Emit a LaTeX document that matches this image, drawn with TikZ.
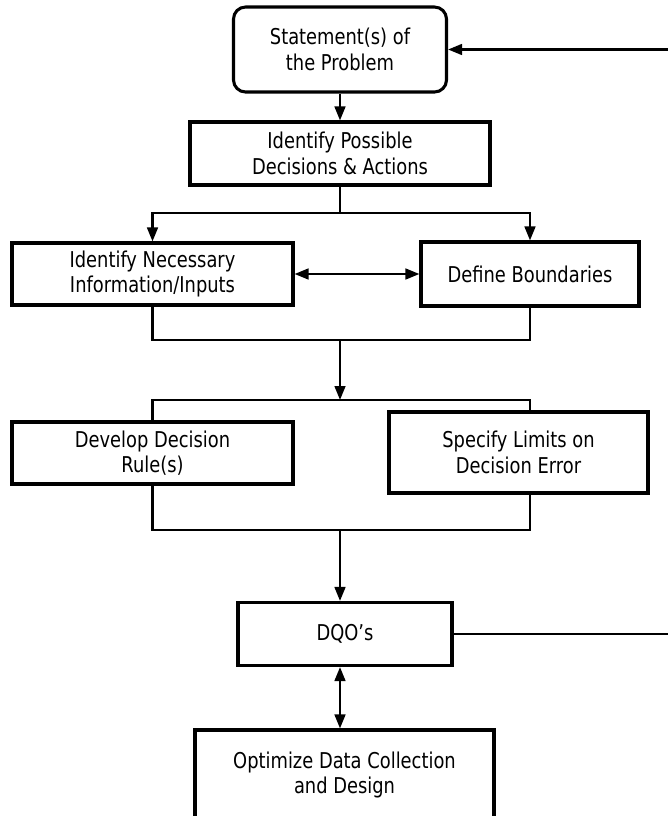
\documentclass[tikz,border=0pt]{standalone}
\usepackage{fontspec}
\setmainfont{DejaVu Sans}[FakeStretch=0.82]
\usepackage{tikz}
\usetikzlibrary{arrows.meta}
\tikzset{box/.style={draw, line width=2.6pt, align=center,
   font=\fontsize{18.6pt}{21.6pt}\selectfont},
 rbox/.style={box, rounded corners=3.6mm},
 link/.style={line width=2.1pt},
 arr/.style={link, -{Triangle[length=4.2mm, width=3.2mm]}},
 darr/.style={link, {Triangle[length=4.2mm, width=3.2mm]}-{Triangle[length=4.2mm, width=3.2mm]}},
 }

\begin{document}
\begin{tikzpicture}[x=0.3mm, y=-0.3mm]
        \useasboundingbox (0, 0) rectangle (668, 816);
        \clip (0, 0) rectangle (668, 816);
        \node [rbox, minimum width=6.39cm, minimum height=2.55cm] (stmt) at (340, 49.5) {Statement(s) of\\the Problem};
        \node [box, minimum width=9cm, minimum height=1.89cm] (poss) at (340, 153.5) {Identify Possible\\Decisions \& Actions};
        \node [box, minimum width=8.43cm, minimum height=1.86cm] (info) at (152.5, 274) {Identify Necessary\\Information/Inputs};
        \node [box, minimum width=6.54cm, minimum height=1.92cm] (bound) at (530, 274) {Define Boundaries};
        \node [box, minimum width=8.43cm, minimum height=1.86cm] (rule) at (152.5, 453) {Develop Decision\\Rule(s)};
        \node [box, minimum width=7.77cm, minimum height=2.43cm] (limits) at (518.5, 452.5) {Specify Limits on\\Decision Error};
        \node [box, minimum width=6.42cm, minimum height=1.89cm] (dqo) at (345, 634) {DQO’s};
        \node [box, minimum width=8.97cm, minimum height=2.7cm] (opt) at (344.5, 775) {Optimize Data Collection\\and Design};
        \coordinate (split1) at (340, 213);
        \coordinate (join1) at (340, 340);
        \coordinate (split2) at (340, 400);
        \coordinate (join2) at (340, 530);
        \coordinate (retA) at (668, 49.5);
        \coordinate (retB) at (668, 634);
        \draw [arr] (stmt.south) -- (poss.north);
        \draw [link] (poss.south) -- (split1);
        \draw [arr] (split1) -| (info.north);
        \draw [arr] (split1) -| (bound.north);
        \draw [darr] (info.east) -- (bound.west);
        \draw [link] (info.south) |- (join1) -| (bound.south);
        \draw [arr] (join1) -- (split2);
        \draw [link] (rule.north) |- (split2) -| (limits.north -| bound.south);
        \draw [link] (rule.south) |- (join2) -| (limits.south -| bound.south);
        \draw [arr] (join2) -- (join2 |- dqo.north);
        \draw [darr] (dqo.south -| join2) -- (opt.north -| join2);
        \draw [link] (dqo.east) -- (retB);
        \draw [arr] (retA) -- (stmt.east);
    \end{tikzpicture}
\end{document}
